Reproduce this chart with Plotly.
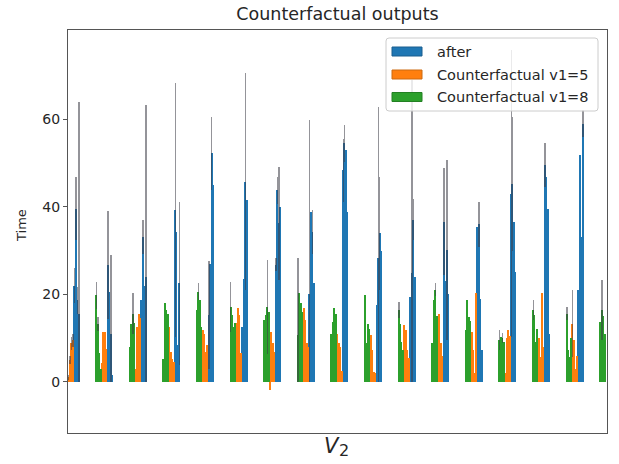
import plotly.graph_objects as go

# Per-cluster bar heights (4 sub-bars per series) and their error amounts.
# None marks sub-bars that fall outside the visible x range.
after_vals = [
    [22.0, 39.6, 18.6, 15.6], [26.7, 20.6, 11.0, 1.5], [18.6, 33.1, 22.0, 24.0],
    [39.2, 34.3, 8.4, 22.5], [15.2, 27.0, 52.2, 45.0], [12.6, 23.6, 45.7, 41.5],
    [26.8, 43.8, 36.2, 40.0], [20.0, 38.9, 34.3, 22.5], [48.4, 54.5, 53.0, 38.9],
    [17.5, 28.2, 33.9, 30.0], [19.4, 24.8, 37.0, 24.0], [36.6, 23.0, 30.1, 20.0],
    [35.4, 36.0, 19.0, 7.2], [43.0, 45.3, 36.6, 25.0], [49.5, 46.9, 39.6, 11.0],
    [21.0, 51.8, 33.1, 59.0], [None, None, None, None],
]
after_err = [
    [4.0, 7.3, 3.0, 48.4], [12.3, 0, 18.0, 0], [0, 3.8, 0, 39.2],
    [29.0, 0, 0, 18.6], [12.3, 0, 8.4, 0], [0, 0, 24.8, 0],
    [1.4, 3.1, 12.9, 0], [39.8, 0, 5.0, 0], [7.2, 4.2, 0, 0],
    [0, 34.7, 13.0, 0], [0, 44.2, 4.7, 0], [12.2, 0, 20.6, 0],
    [0, 5.1, 0, 0], [32.8, 15.3, 0, 0], [5.0, 0, 0, 0],
    [0, 0, 0, 3.1], [0, 0, 0, 0],
]
cf5_vals = [
    [1.0, 5.0, 8.8, 9.5], [4.2, 11.4, 11.4, 7.5], [3.0, 12.6, 15.4, 14.5],
    [12.6, 6.9, 5.3, 4.5], [11.9, 11.0, 6.9, 8.5], [13.5, 16.8, 15.2, 6.5],
    [-1.9, 11.4, 8.8, 6.9], [16.8, 14.1, 8.8, 8.0], [11.0, 8.8, 8.0, 2.5],
    [10.7, 7.2, 2.3, 2.0], [12.9, 11.8, 7.2, 5.5], [1.9, 15.6, 8.8, 6.0],
    [11.4, 7.2, 1.9, 20.2], [1.9, 9.9, 11.8, 10.5], [9.9, 5.7, 20.2, 8.0],
    [13.3, 9.5, 3.0, 6.0], [None, None, None, None],
]
cf5_err = [
    [0.5, 1.0, 1.5, 1.5], [0, 0, 0, 0], [0, 0, 0, 0],
    [0, 0, 0, 0], [0, 0, 0, 0], [0, 0, 0, 0],
    [0, 0, 0, 0], [0, 0, 0, 0], [0, 0, 0, 0],
    [0, 0, 0, 0], [0, 0, 0, 0], [0, 0, 0, 0],
    [0, 0, 0, 0], [0, 0, 0, 0], [0, 0, 0, 0],
    [7.7, 0, 0, 0], [0, 0, 0, 0],
]
cf8_vals = [
    [None, None, None, None], [19.8, 13.3, 6.5, 3.0], [8.0, 13.3, 15.6, 13.5],
    [5.3, 17.9, 16.4, 15.6], [16.4, 20.6, 18.7, 12.6], [17.1, 15.2, 12.6, 13.5],
    [14.1, 15.2, 17.1, 16.0], [10.7, 20.2, 17.9, 16.0], [11.0, 13.7, 16.8, 15.5],
    [19.8, 8.8, 13.3, 12.0], [16.4, 13.3, 9.0, 7.2], [8.8, 18.7, 21.0, 15.0],
    [11.8, 18.7, 14.9, 14.0], [9.5, 10.3, 10.0, 9.0], [16.4, 15.2, 9.1, 12.0],
    [15.6, 7.2, 5.7, 10.0], [13.7, 16.4, 15.0, 11.0],
]
cf8_err = [
    [0, 0, 0, 0], [3.1, 1.6, 0, 0], [0, 0, 4.6, 0],
    [0, 0, 0, 0], [0, 1.9, 0, 0], [5.8, 0, 0, 0],
    [0, 0, 10.7, 0], [17.5, 0, 0, 0], [0, 0, 0, 0],
    [0, 0, 0, 0], [1.9, 0, 0, 0], [0, 0, 1.5, 0],
    [0, 0, 0, 0], [2.3, 0, 1.2, 0], [2.3, 0, 0, 0],
    [1.5, 0, 0, 0], [0, 6.8, 0, 0],
]

series_names = ["after", "Counterfactual v1=5", "Counterfactual v1=8"]
series_colors = ["#1f77b4", "#ff7f0e", "#2ca02c"]
y_ticks = [0, 20, 40, 60]

# layout of a cluster: green | orange | blue, 4 thin bars each
GROUP_SPAN = 0.52
N_SUB = 12
BAR_W = GROUP_SPAN / N_SUB
SLOT = {"after": 2, "Counterfactual v1=5": 1, "Counterfactual v1=8": 0}


def build(name, vals, errs):
    xs, ys, ep, em = [], [], [], []
    for c, (row, erow) in enumerate(zip(vals, errs)):
        for k, (v, e) in enumerate(zip(row, erow)):
            if v is None:
                continue
            pos = SLOT[name] * 4 + k
            xs.append(c + (pos - (N_SUB - 1) / 2) * BAR_W)
            ys.append(v)
            ep.append(e)
            em.append(min(e, max(v, 0)))
    return xs, ys, ep, em


fig = go.Figure()
data_sets = [(after_vals, after_err), (cf5_vals, cf5_err), (cf8_vals, cf8_err)]
for name, color, (vals, errs) in zip(series_names, series_colors, data_sets):
    xs, ys, ep, em = build(name, vals, errs)
    fig.add_trace(go.Bar(
        x=xs, y=ys, width=BAR_W, name=name,
        marker=dict(color=color, line=dict(width=0)),
        error_y=dict(type="data", symmetric=False, array=ep, arrayminus=em,
                     color="rgba(60,60,70,0.55)", thickness=1.4, width=0),
        showlegend=False,
    ))

L, R, T, B = 68, 12, 30, 31
W, H = 619, 464
pw, ph = W - L - R, H - T - B


def px(x):
    return (x - L) / pw


def py(y):
    return (H - B - y) / ph


fig.update_layout(
    width=W, height=H,
    margin=dict(l=L, r=R, t=T, b=B),
    paper_bgcolor="white", plot_bgcolor="white",
    barmode="overlay", bargap=0,
    font=dict(family="DejaVu Sans", color="#262626"),
    title=dict(text="Counterfactual outputs", x=0.5, xref="paper",
               y=1 - 14 / H, yanchor="middle", yref="container",
               font=dict(size=17.5, color="#262626")),
    xaxis=dict(range=[-0.0833, 15.958], showticklabels=False, ticks="",
               showgrid=False, zeroline=False, showline=True, mirror=True,
               linecolor="#555555", linewidth=1),
    yaxis=dict(range=[-11.7, 80.4], tickvals=y_ticks, ticks="outside",
               ticklen=4, tickcolor="#555555", showgrid=False, zeroline=False,
               showline=True, mirror=True, linecolor="#555555", linewidth=1,
               tickfont=dict(size=14, color="#262626")),
)

annotations = [
    dict(text="Time", x=px(21), y=py(226), xref="paper", yref="paper",
         showarrow=False, textangle=-90, font=dict(size=13),
         xanchor="center", yanchor="middle"),
    dict(text="<i>V</i>", x=px(331.5), y=py(446), xref="paper", yref="paper",
         showarrow=False, font=dict(size=21), xanchor="center", yanchor="middle"),
    dict(text="2", x=px(344), y=py(450), xref="paper", yref="paper",
         showarrow=False, font=dict(size=16), xanchor="center", yanchor="middle"),
]

# legend frame
x0, x1, y0, y1, r = 386, 598, 38, 111, 3
rx, ry = r / pw, r / ph
path = (f"M {px(x0)+rx},{py(y0)} L {px(x1)-rx},{py(y0)} Q {px(x1)},{py(y0)} {px(x1)},{py(y0)-ry} "
        f"L {px(x1)},{py(y1)+ry} Q {px(x1)},{py(y1)} {px(x1)-rx},{py(y1)} "
        f"L {px(x0)+rx},{py(y1)} Q {px(x0)},{py(y1)} {px(x0)},{py(y1)+ry} "
        f"L {px(x0)},{py(y0)-ry} Q {px(x0)},{py(y0)} {px(x0)+rx},{py(y0)} Z")
shapes = [dict(type="path", path=path, xref="paper", yref="paper", layer="above",
               fillcolor="rgba(255,255,255,0.8)", line=dict(color="#cccccc", width=1))]
rows = [51.5, 74.5, 97]
edge = ["#1a5f8f", "#cc6a10", "#238023"]
for name, color, ec, ry_ in zip(series_names, series_colors, edge, rows):
    shapes.append(dict(type="rect", xref="paper", yref="paper", layer="above",
                       x0=px(392), x1=px(422), y0=py(ry_ + 4.5), y1=py(ry_ - 4.5),
                       fillcolor=color, line=dict(color=ec, width=1)))
    annotations.append(dict(text=name, x=px(435), y=py(ry_), xref="paper", yref="paper",
                            showarrow=False, xanchor="left", yanchor="middle",
                            font=dict(size=14.5, color="#262626")))

fig.update_layout(shapes=shapes, annotations=annotations)
fig.write_html("out.html")
